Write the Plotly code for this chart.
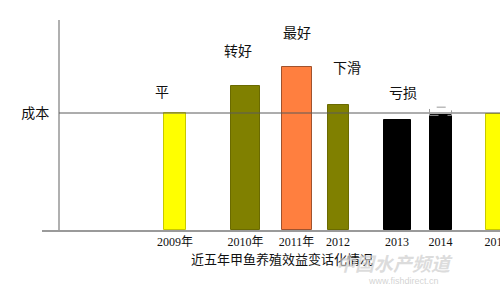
import plotly.graph_objects as go

# ---- data ----
years = ["2009年", "2010年", "2011年", "2012", "2013", "2014", "2015"]
x_pos = [2.66, 4.07, 5.09, 5.92, 7.10, 7.97, 9.09]      # uneven placement along the x scale
values = [100, 123.3, 139.6, 106.6, 93.8, 98.0, 99.4]   # benefit index, cost = 100
bar_widths = [0.44, 0.58, 0.60, 0.42, 0.54, 0.44, 0.44]
cost = 100
cost_label = "成本"

label_text = ["平", "转好", "最好", "下滑", "亏损"]
label_x = [2.40, 3.92, 5.10, 6.10, 7.22]
label_y = [118.8, 153.8, 169.2, 139.3, 117.9]

title_text = "近五年甲鱼养殖效益变话化情况"

# ---- styles ----
fill_colors = ["#FFFF00", "#808000", "#FF7F3F", "#808000", "#000000", "#000000", "#FFFF00"]
line_colors = ["#C8C800", "#6A6A00", "#A0522D", "#6A6A00", "#000000", "#000000", "#C8C800"]
serif = "Liberation Serif, Noto Sans CJK SC"
cjk = "Noto Sans CJK SC"

fig = go.Figure()
fig.add_trace(go.Bar(
    x=x_pos, y=values, width=bar_widths,
    marker=dict(color=fill_colors, line=dict(color=line_colors, width=1)),
    showlegend=False, hoverinfo="skip",
))

# cost reference line
fig.add_shape(type="line", xref="paper", yref="y", x0=0.0371, x1=1,
              y0=cost, y1=cost, line=dict(color="#5a5a5a", width=1))

# dashed box above the 2014 bar
i14 = 5
fig.add_shape(type="rect", xref="x", yref="y",
              x0=x_pos[i14] - bar_widths[i14] / 2, x1=x_pos[i14] + bar_widths[i14] / 2,
              y0=values[i14], y1=values[i14] + 7,
              line=dict(color="#999999", width=1, dash="dash"))

for t, lx, ly in zip(label_text, label_x, label_y):
    fig.add_annotation(x=lx, y=ly, xref="x", yref="y", text=t, showarrow=False,
                       xanchor="center", yanchor="middle",
                       font=dict(family=cjk, size=14, color="#111111"))

# chart caption (below axis)
fig.add_annotation(x=0.524, y=-0.134, xref="paper", yref="paper", text=title_text,
                   showarrow=False, xanchor="center", yanchor="middle",
                   font=dict(family=cjk, size=13, color="#111111"))

# watermark
fig.add_annotation(x=0.77, y=-0.155, xref="paper", yref="paper",
                   text="<b><i>中国水产频道</i></b>", showarrow=False,
                   xanchor="center", yanchor="middle",
                   font=dict(family=cjk, size=19, color="rgba(205,205,205,0.7)"))
fig.add_annotation(x=0.79, y=-0.245, xref="paper", yref="paper",
                   text="www.fishdirect.cn", showarrow=False,
                   xanchor="center", yanchor="middle",
                   font=dict(family="Liberation Sans", size=9, color="rgba(200,200,200,0.8)"))

fig.update_layout(
    width=500, height=291,
    margin=dict(l=42, r=0, t=20, b=61),
    paper_bgcolor="white", plot_bgcolor="white",
    bargap=0,
    xaxis=dict(range=[0, 9.16], showline=True, linecolor="#9a9a9a", linewidth=2,
               showgrid=False, zeroline=False, ticks="",
               tickvals=x_pos, ticktext=years, ticklabeloverflow="allow",
               tickfont=dict(family=serif, size=12, color="#111111"),
               automargin=False, fixedrange=True),
    yaxis=dict(range=[0, 179.5], anchor="free", position=0.0371,
               showline=True, linecolor="#b0b0b0", linewidth=2,
               showgrid=False, zeroline=False, ticks="",
               tickvals=[cost], ticktext=[cost_label],
               tickfont=dict(family=cjk, size=14, color="#111111"),
               ticklabelstandoff=6, automargin=False, fixedrange=True),
    font=dict(family=serif),
)

fig.write_html("out.html")
